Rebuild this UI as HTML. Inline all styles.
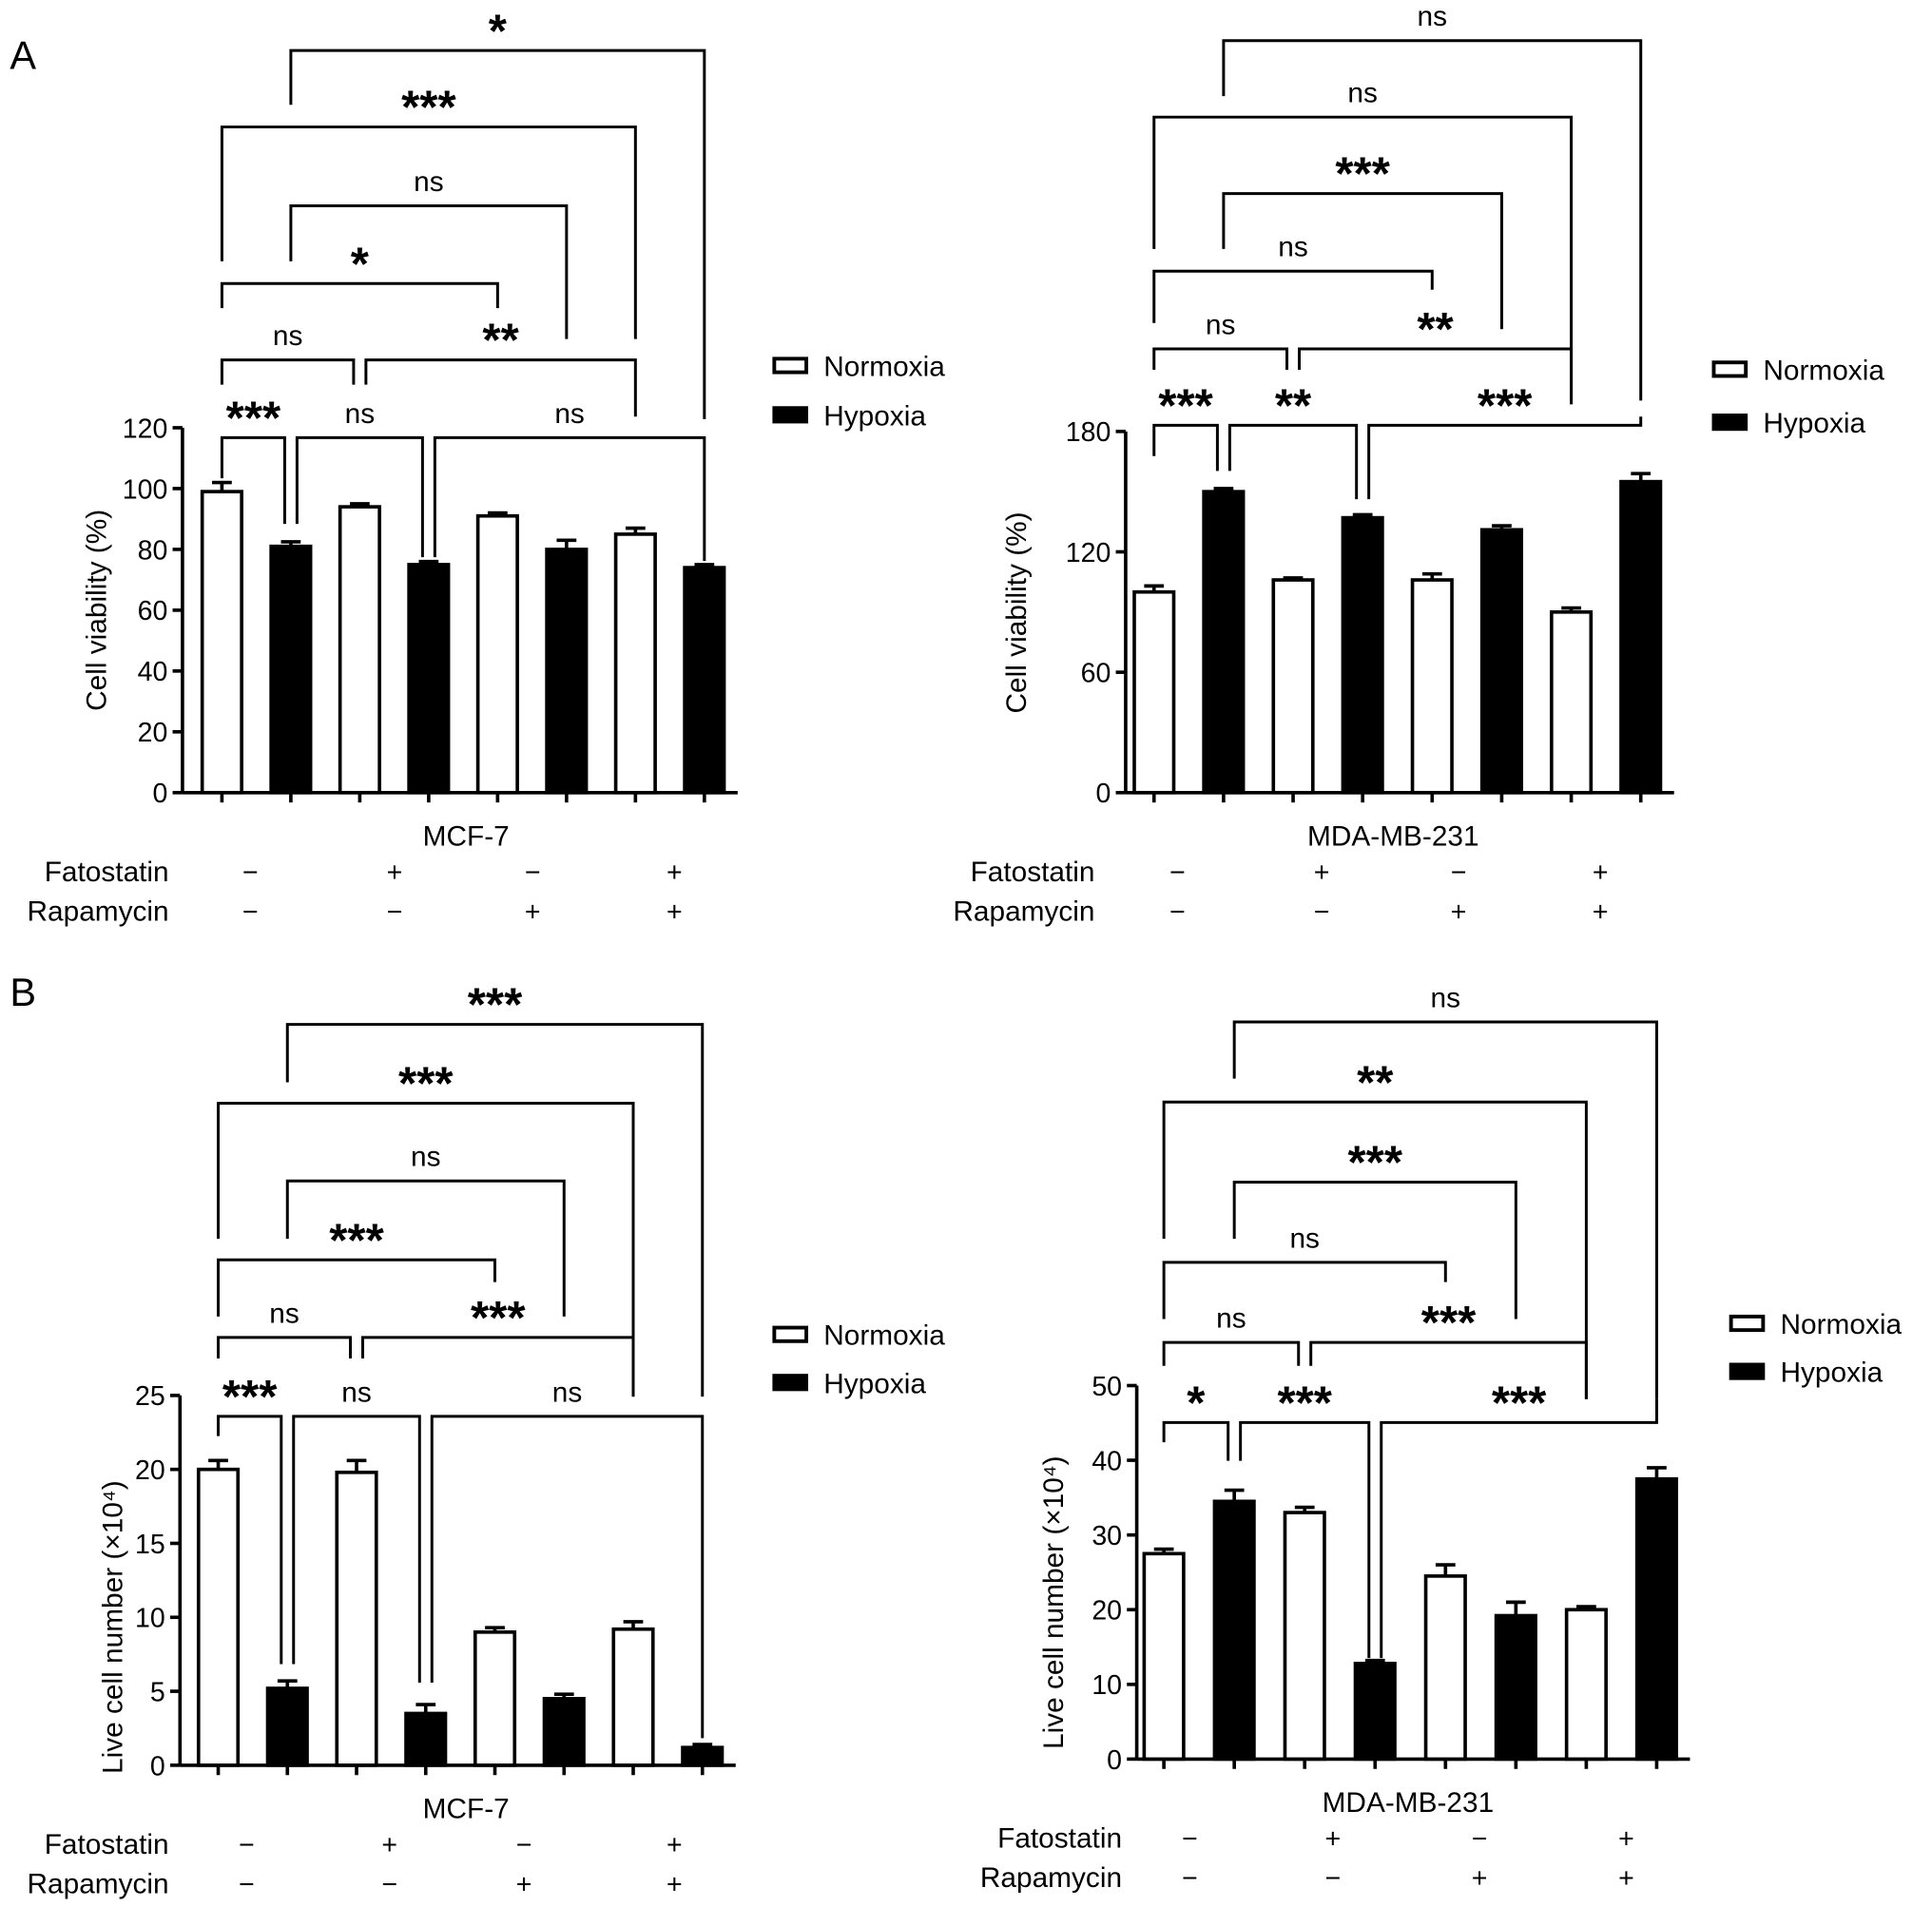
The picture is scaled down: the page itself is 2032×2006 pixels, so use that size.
<!DOCTYPE html>
<html><head><meta charset="utf-8"><style>
html,body{margin:0;padding:0;background:#fff;}
svg{display:block;font-family:"Liberation Sans",Arial,sans-serif;}
</style></head><body>
<svg id="fig" width="2032" height="2006" viewBox="0 0 1567 1547" preserveAspectRatio="none" xmlns="http://www.w3.org/2000/svg">
<text x="8" y="56" font-size="32">A</text>
<text x="8" y="816" font-size="32">B</text>
</svg>
<script>
// ---- data ----
const groups = ["N-ctrl","H-ctrl","N-Fato","H-Fato","N-Rapa","H-Rapa","N-Both","H-Both"];
const aMcfValues = [99, 81, 94, 75, 91, 80, 85, 74];
const aMcfErrors = [3, 1.5, 1, 1, 1, 3, 2, 1];
const aMdaValues = [100, 150, 106, 137, 106, 131, 90, 155];
const aMdaErrors = [3, 1.5, 1, 1.5, 3, 2, 2, 4];
const bMcfValues = [20, 5.2, 19.8, 3.5, 9, 4.5, 9.2, 1.2];
const bMcfErrors = [0.6, 0.5, 0.8, 0.6, 0.3, 0.3, 0.5, 0.2];
const bMdaValues = [27.5, 34.5, 33, 12.8, 24.5, 19.2, 20, 37.5];
const bMdaErrors = [0.6, 1.5, 0.7, 0.4, 1.5, 1.8, 0.4, 1.5];
const aMcfTicks = [0, 20, 40, 60, 80, 100, 120];
const aMdaTicks = [0, 60, 120, 180];
const bMcfTicks = [0, 5, 10, 15, 20, 25];
const bMdaTicks = [0, 10, 20, 30, 40, 50];
const fatostatin = ["−", "+", "−", "+"];
const rapamycin = ["−", "−", "+", "+"];
// brackets: [fromIndex, toIndex, label]
const aMcfSig = [[0,1,"***"],[1,3,"ns"],[3,7,"ns"],[0,2,"ns"],[2,6,"**"],[0,4,"*"],[1,5,"ns"],[0,6,"***"],[1,7,"*"]];
const aMdaSig = [[0,1,"***"],[1,3,"**"],[3,7,"***"],[0,2,"ns"],[2,6,"**"],[0,4,"ns"],[1,5,"***"],[0,6,"ns"],[1,7,"ns"]];
const bMcfSig = [[0,1,"***"],[1,3,"ns"],[3,7,"ns"],[0,2,"ns"],[2,6,"***"],[0,4,"***"],[1,5,"ns"],[0,6,"***"],[1,7,"***"]];
const bMdaSig = [[0,1,"*"],[1,3,"***"],[3,7,"***"],[0,2,"ns"],[2,6,"***"],[0,4,"ns"],[1,5,"***"],[0,6,"**"],[1,7,"ns"]];

const NS = "http://www.w3.org/2000/svg";
const svg = document.getElementById("fig");
function mk(tag, attrs, parent){const e=document.createElementNS(NS,tag);for(const k in attrs)e.setAttribute(k,attrs[k]);(parent||svg).appendChild(e);return e;}

function panel(cfg){
  const g = mk("g",{});
  
  
  const yScale = v => cfg.y0 - (v - 0) / cfg.ymax * (cfg.y0 - cfg.ytop);
  const xScale = i => cfg.x0 + i * cfg.step;
  const sw = 2.8;
  const ya = mk("line",{x1:cfg.axX,y1:cfg.y0,x2:cfg.axX,y2:cfg.ytop,stroke:"#000","stroke-width":sw},g);
  
  
  cfg.ticks.forEach(t=>{
    const y=yScale(t);
    mk("line",{x1:cfg.axX-8,y1:y,x2:cfg.axX,y2:y,stroke:"#000","stroke-width":sw},g);
    const tl = mk("text",{x:cfg.axX-12,y:y+8,"font-size":22,"text-anchor":"end"},g);
    tl.textContent=t;
    
    
  });
  const xa = mk("line",{x1:cfg.axX,y1:cfg.y0,x2:xScale(7)+27,y2:cfg.y0,stroke:"#000","stroke-width":sw},g);
  
  
  const yt = mk("text",{x:0,y:0,"font-size":23,"text-anchor":"middle",transform:`translate(${cfg.ytX},${cfg.ytY}) rotate(-90)`},g);
  yt.textContent = cfg.ytitle;
  
  
  cfg.values.forEach((v,i)=>{
    const x=xScale(i), y=yScale(v), w=32;
    const black = i%2===1;
    const b = mk("rect",{x:x-w/2,y:y,width:w,height:cfg.y0-y,fill:black?"#000":"#fff",stroke:"#000","stroke-width":sw},g);
    
    
    const ye=yScale(v+cfg.errors[i]);
    const e=mk("path",{d:`M${x},${y} L${x},${ye} M${x-8},${ye} L${x+8},${ye}`,stroke:"#000","stroke-width":sw,fill:"none"},g);
    
    
    mk("line",{x1:x,y1:cfg.y0,x2:x,y2:cfg.y0+8,stroke:"#000","stroke-width":sw},g);
  });
  cfg.sig.forEach((s,k)=>{
    const [a,b,lab]=s;
    const lv = cfg.levels[k];
    const xl = xScale(a) + (cfg.shiftL[k]||0), xr = xScale(b) + (cfg.shiftR[k]||0);
    const y = lv[0];
    const p = mk("path",{d:`M${xl},${lv[1]} L${xl},${y} L${xr},${y} L${xr},${lv[2]}`,stroke:"#000","stroke-width":2.3,fill:"none"},g);
    
    
    const star = lab.indexOf("*")>=0;
    const t = mk("text",{x:(xl+xr)/2,y:star? y-3 : y-12,"font-size":star?38:23,"font-weight":star?"bold":"normal","text-anchor":"middle"},g);
    t.textContent = lab;
    
    
  });
  const xt = mk("text",{x:cfg.xtX,y:cfg.y0+43,"font-size":23,"text-anchor":"middle"},g);
  xt.textContent = cfg.xtitle;
  
  
  [["Fatostatin",fatostatin,cfg.y0+72],["Rapamycin",rapamycin,cfg.y0+104]].forEach(r=>{
    const lt = mk("text",{x:cfg.rowLabX,y:r[2],"font-size":23,"text-anchor":"end"},g);
    lt.textContent=r[0];
    
    
    r[1].forEach((sgn,i)=>{
      const st = mk("text",{x:cfg.signX[i],y:r[2],"font-size":22,"text-anchor":"middle"},g);
      st.textContent=sgn;
      
      
    });
  });
  [["Normoxia","#fff",0],["Hypoxia","#000",1]].forEach(l=>{
    const ly = cfg.legY + l[2]*cfg.legGap;
    const r = mk("rect",{x:cfg.legX,y:ly-6,width:26,height:11,fill:l[1],stroke:"#000","stroke-width":3},g);
    
    
    const t = mk("text",{x:cfg.legX+40,y:ly+8,"font-size":23},g);
    t.textContent=l[0];
    
    
  });
}

panel({name:"panel-a-mcf7",values:aMcfValues,errors:aMcfErrors,ticks:aMcfTicks,ymax:120,sig:aMcfSig,
  axX:148,x0:180,step:55.9,y0:643,ytop:347,ytitle:"Cell viability (%)",ytX:86,ytY:495,xtitle:"MCF-7",xtX:378,
  rowLabX:137,signX:[203,320,432,547],legX:628,legY:297,legGap:40,
  levels:[[355,388,425],[355,425,452],[355,452,455],[292,312,312],[292,312,338],[230,250,250],[167,212,275],[103,212,275],[41,85,340]],
  shiftL:[0,5,5,0,5,0,0,0,0],shiftR:[-5,-5,0,-5,0,0,0,0,0]});
panel({name:"panel-a-mda",values:aMdaValues,errors:aMdaErrors,ticks:aMdaTicks,ymax:180,sig:aMdaSig,
  axX:913,x0:936,step:56.4,y0:643,ytop:350,ytitle:"Cell viability (%)",ytX:832,ytY:497,xtitle:"MDA-MB-231",xtX:1130,
  rowLabX:888,signX:[955,1072,1183,1298],legX:1390,legY:300,legGap:43,
  levels:[[345,370,382],[345,382,405],[345,405,338],[283,300,300],[283,300,328],[220,262,235],[157,202,267],[95,202,325],[33,78,325]],
  shiftL:[0,5,5,0,5,0,0,0,0],shiftR:[-5,-5,0,-5,0,0,0,0,0]});
panel({name:"panel-b-mcf7",values:bMcfValues,errors:bMcfErrors,ticks:bMcfTicks,ymax:25,sig:bMcfSig,
  axX:146,x0:177,step:56.1,y0:1432,ytop:1132,ytitle:"Live cell number (×10⁴)",ytX:99,ytY:1320,xtitle:"MCF-7",xtX:378,
  rowLabX:137,signX:[200,316,425,547],legX:628,legY:1083,legGap:39,
  levels:[[1149,1165,1350],[1149,1350,1365],[1149,1365,1410],[1085,1102,1102],[1085,1102,1133],[1022,1068,1040],[958,1005,1068],[895,1005,1133],[831,878,1133]],
  shiftL:[0,5,5,0,5,0,0,0,0],shiftR:[-5,-5,0,-5,0,0,0,0,0]});
panel({name:"panel-b-mda",values:bMdaValues,errors:bMdaErrors,ticks:bMdaTicks,ymax:50,sig:bMdaSig,
  axX:922,x0:944,step:57.1,y0:1427,ytop:1124,ytitle:"Live cell number (×10⁴)",ytX:862,ytY:1300,xtitle:"MDA-MB-231",xtX:1142,
  rowLabX:910,signX:[965,1081,1200,1319],legX:1404,legY:1074,legGap:39,
  levels:[[1154,1170,1185],[1154,1185,1345],[1154,1345,1135],[1089,1108,1108],[1089,1108,1135],[1024,1070,1040],[959,1005,1070],[894,1005,1135],[829,875,1135]],
  shiftL:[0,5,5,0,5,0,0,0,0],shiftR:[-5,-5,0,-5,0,0,0,0,0]});
</script>
</body></html>
